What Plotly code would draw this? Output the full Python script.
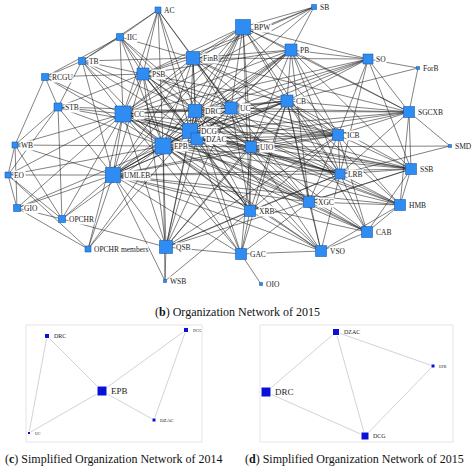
import plotly.graph_objects as go

# main network (b): node name, x, y (pixel-ish layout coords), size
names = ["AC", "IIC", "TB", "RCGU", "PSB", "FinB", "BPW", "SB", "PB", "SO", "ForB",
         "STB", "CC", "DRC", "UC", "CB", "SGCXB", "ICB", "SMD", "WB", "DCG", "DZAC",
         "EPB", "UIO", "EO", "UMLEB", "LRB", "SSB", "GIO", "XRB", "XGC", "HMB",
         "OPCHR", "CAB", "OPCHR members", "QSB", "GAC", "VSO", "WSB", "OIO"]
node_x = [158, 120, 82, 45, 143, 193, 243, 314, 291, 368, 418,
          58, 123, 195, 231, 287, 409, 338, 450, 15, 190, 197,
          163, 251, 8, 113, 340, 411, 17, 250, 309, 400,
          62, 367, 88, 166, 241, 321, 165, 261]
node_y = [10, 37, 61, 77, 74, 58, 27, 7, 50, 59, 68,
          107, 114, 111, 108, 101, 112, 135, 146, 145, 131, 139,
          146, 147, 175, 175, 174, 169, 208, 211, 202, 205,
          219, 232, 249, 247, 254, 251, 281, 284]
node_size = [6, 7, 7, 7, 12, 13, 15, 5, 12, 10, 3,
             8, 16, 13, 12, 12, 11, 11, 3, 6, 15, 12,
             16, 11, 6, 15, 10, 11, 7, 11, 11, 11,
             7, 11, 6, 13, 11, 11, 3, 3]

adjacency = {
    "AC": "IIC TB PSB FinB CC DRC DCG EPB UC",
    "IIC": "TB RCGU PSB FinB CC DRC EPB DCG UIO",
    "TB": "RCGU STB PSB CC EPB DRC DCG UMLEB FinB",
    "RCGU": "STB WB CC PSB EPB",
    "SB": "BPW FinB PSB PB CC DRC",
    "SO": "BPW PB ForB CB UC DRC EPB SGCXB ICB LRB SSB FinB CC",
    "ForB": "SGCXB CB",
    "SMD": "SGCXB UIO LRB",
    "STB": "WB EO CC EPB UMLEB DCG DRC PSB OPCHR",
    "WB": "EO GIO CC EPB UMLEB OPCHR",
    "EO": "GIO UMLEB EPB OPCHR CC",
    "GIO": "UMLEB EPB OPCHR CC",
    "OPCHR": "UMLEB EPB QSB CC",
    "OPCHR members": "UMLEB EPB CC DCG EO GIO",
    "WSB": "QSB UMLEB EPB XRB",
    "OIO": "GAC",
    "QSB": "UMLEB EPB CC DCG DZAC DRC UIO XRB GAC LRB CB ICB SSB UC PSB",
    "GAC": "EPB DCG UMLEB CC UIO XRB VSO DRC CB XGC",
    "VSO": "EPB DCG CC UIO XRB XGC LRB CAB HMB UMLEB DRC CB",
    "CAB": "EPB DCG UIO XGC LRB HMB SSB CB ICB UMLEB CC",
    "HMB": "EPB DCG UIO LRB SSB CB ICB SGCXB XGC DRC UMLEB",
    "SSB": "EPB DCG UIO LRB ICB CB SGCXB PB DRC UMLEB CC XGC",
    "SGCXB": "PB CB ICB UIO DCG EPB DRC UC BPW LRB FinB",
    "BPW": "FinB PSB PB CC DRC UC CB DCG DZAC EPB UIO UMLEB ICB LRB XRB",
    "FinB": "PSB PB CC DRC UC CB DCG DZAC EPB UIO UMLEB ICB LRB XGC",
    "PSB": "PB CC DRC UC CB DCG DZAC EPB UIO UMLEB ICB XRB",
    "PB": "CC DRC UC CB DCG DZAC EPB UIO UMLEB ICB LRB XGC",
    "CC": "DRC UC CB DCG DZAC EPB UIO UMLEB ICB LRB XRB XGC",
    "DRC": "UC CB DCG DZAC EPB UIO UMLEB ICB LRB XRB XGC",
    "UC": "CB DCG DZAC EPB UIO UMLEB ICB LRB XRB",
    "CB": "DCG DZAC EPB UIO UMLEB ICB LRB XRB XGC",
    "DCG": "DZAC EPB UIO UMLEB ICB LRB XRB XGC",
    "DZAC": "EPB UIO UMLEB ICB LRB XRB XGC",
    "EPB": "UIO UMLEB ICB LRB XRB XGC",
    "UIO": "UMLEB ICB LRB XRB XGC",
    "UMLEB": "ICB LRB XRB XGC",
    "ICB": "LRB XRB XGC",
    "LRB": "XRB XGC",
}

# simplified networks (c) 2014 and (d) 2015
c_names = ["DRC", "DCG", "EPB", "DZAC", "UC"]
c_x = [47, 186, 102, 154, 29]
c_y = [336, 330, 391, 420, 433]
c_size = [5, 5, 10, 4, 3]
c_edges = [("DRC", "EPB"), ("DRC", "UC"), ("EPB", "UC"), ("EPB", "DCG"),
           ("EPB", "DZAC"), ("DCG", "DZAC")]

d_names = ["DZAC", "EPB", "DRC", "DCG"]
d_x = [336, 433, 266, 365]
d_y = [332, 366, 392, 436]
d_size = [7, 4, 10, 8]
d_edges = [("DZAC", "EPB"), ("DZAC", "DRC"), ("DZAC", "DCG"), ("DRC", "DCG"),
           ("EPB", "DCG")]

fig = go.Figure()

pos = {n: (x, y) for n, x, y in zip(names, node_x, node_y)}
ex, ey = [], []
for a, targets in adjacency.items():
    for b in targets.split():
        ex += [pos[a][0], pos[b][0], None]
        ey += [pos[a][1], pos[b][1], None]
fig.add_trace(go.Scatter(x=ex, y=ey, mode="lines", hoverinfo="skip",
                         line=dict(color="rgba(30,30,30,0.7)", width=0.8)))
fig.add_trace(go.Scatter(x=node_x, y=node_y, mode="markers", text=names,
                         marker=dict(symbol="square", size=node_size, color="#2f8cf2",
                                     opacity=1, line=dict(color="#1a5cb0", width=0.6))))
for n, x, y, s in zip(names, node_x, node_y, node_size):
    fig.add_annotation(x=x, y=y, text=n, showarrow=False, xanchor="left",
                       xshift=s / 2 + 2, bgcolor="white", borderpad=0,
                       font=dict(family="Liberation Serif", size=7.5, color="#222"))


def small_net(nm, xs, ys, ss, edges, lab_sizes):
    p = {n: (x, y) for n, x, y in zip(nm, xs, ys)}
    lx, ly = [], []
    for a, b in edges:
        lx += [p[a][0], p[b][0], None]
        ly += [p[a][1], p[b][1], None]
    fig.add_trace(go.Scatter(x=lx, y=ly, mode="lines", hoverinfo="skip",
                             line=dict(color="#c8c8c8", width=0.8)))
    fig.add_trace(go.Scatter(x=xs, y=ys, mode="markers", text=nm,
                             marker=dict(symbol="square", size=ss, color="#0a10d8",
                                         opacity=1)))
    for n, x, y, s, fs in zip(nm, xs, ys, ss, lab_sizes):
        fig.add_annotation(x=x, y=y, text=n, showarrow=False, xanchor="left",
                           xshift=s / 2 + 2,
                           font=dict(family="Liberation Serif", size=fs, color="#222"))


small_net(c_names, c_x, c_y, c_size, c_edges, [6, 4, 9, 5, 4])
small_net(d_names, d_x, d_y, d_size, d_edges, [6, 4, 9, 6])

fig.add_shape(type="rect", x0=26, y0=325, x1=202, y1=442,
              line=dict(color="#e4e4e4", width=1), layer="below")
fig.add_shape(type="rect", x0=260, y0=325, x1=453, y1=442,
              line=dict(color="#e4e4e4", width=1), layer="below")

cap = dict(family="Liberation Serif", size=12, color="#111")
fig.add_annotation(x=237, y=312, text="(<b>b</b>) Organization Network of 2015",
                   showarrow=False, font=cap)
fig.add_annotation(x=113, y=459, text="(<b>c</b>) Simplified Organization Network of 2014",
                   showarrow=False, font=cap)
fig.add_annotation(x=354, y=459, text="(<b>d</b>) Simplified Organization Network of 2015",
                   showarrow=False, font=cap)

fig.update_layout(width=474, height=468, margin=dict(l=0, r=0, t=0, b=0),
                  showlegend=False, plot_bgcolor="white", paper_bgcolor="white",
                  xaxis=dict(range=[0, 474], visible=False, fixedrange=True),
                  yaxis=dict(range=[468, 0], visible=False, fixedrange=True))
fig.write_html("out.html", config={"displayModeBar": False},
               post_script="document.body.style.margin='0';"
                           "document.body.style.overflow='hidden';")
